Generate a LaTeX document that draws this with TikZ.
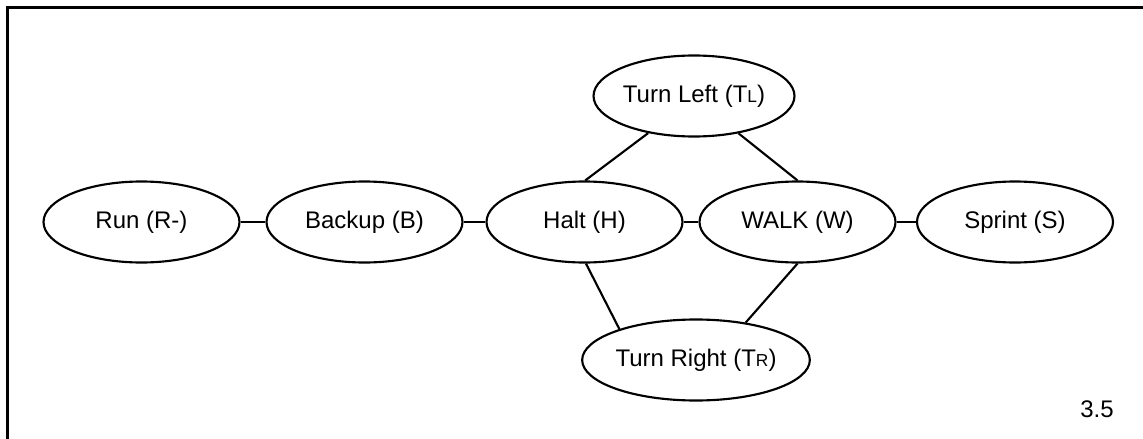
\documentclass[tikz,border=0pt]{standalone}
\usepackage{fontspec}
\setmainfont{Liberation Sans}
\usetikzlibrary{shapes.geometric, positioning}

% small capital used in the turn labels
\newcommand{\lowcap}[1]{{\fontsize{13}{13}\selectfont #1}}

\tikzset{
  gait/.style={draw, ellipse, line width=1.6pt, inner sep=0pt,
    minimum width=147pt, minimum height=60.75pt,
    font=\fontsize{18}{21}\selectfont},
  link/.style={line width=1.6pt}
}

\begin{document}
\begin{tikzpicture}[x=0.75pt, y=-0.75pt]
  \useasboundingbox (0,0) rectangle (1143,439);
  \draw[line width=2pt] (7.5,7.5) rectangle (1150,446);

  % the gaits along the middle row
  \node[gait] (R) at (141.5,222) {Run (R-)};
  \node[gait] (B) at (364.5,222) {Backup (B)};
  \node[gait] (H) at (584.5,222) {Halt (H)};
  \node[gait] (W) at (797.5,222) {WALK (W)};
  \node[gait] (S) at (1015,222) {Sprint (S)};

  % turns above and below
  \node[gait] (TL) at (694,96) {Turn Left (T\lowcap{L})};
  \node[gait] (TR) at (696,360) {Turn Right (T\lowcap{R})};

  \draw[link] (R) -- (B);
  \draw[link] (B) -- (H);
  \draw[link] (H) -- (W);
  \draw[link] (W) -- (S);
  \draw[link] (H.89) -- (TL.219);
  \draw[link] (TL.320) -- (W.90);
  \draw[link] (H.272) -- (TR.158);
  \draw[link] (W.270) -- (TR.37);

  \node[font=\fontsize{18}{21}\selectfont] (fig) at (1097,409) {3.5};
\end{tikzpicture}
\end{document}
